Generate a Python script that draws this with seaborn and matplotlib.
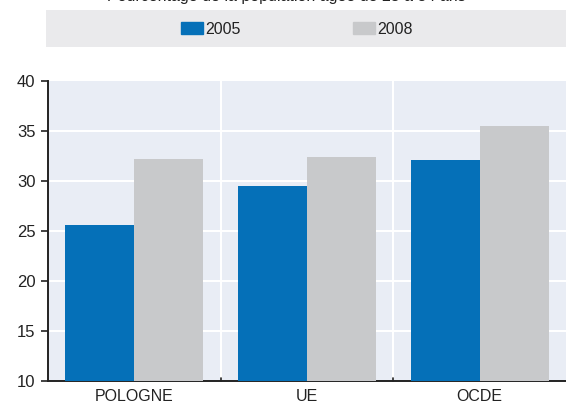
import matplotlib
matplotlib.use("Agg")
import matplotlib.pyplot as plt
import matplotlib.patches as mpatches
import pandas as pd
import seaborn as sns

sns.set_theme(style="white")
plt.rcParams["font.family"] = ["Liberation Sans Narrow", "Liberation Sans", "DejaVu Sans"]

CATEGORIES = ["POLOGNE", "UE", "OCDE"]
YEARS = ["2005", "2008"]
VALUES_2005 = [25.6, 29.5, 32.1]
VALUES_2008 = [32.2, 32.4, 35.5]
TITLE = "Pourcentage de la population âgée de 25 à 34 ans"

BLUE = "#0570B8"
GREY = "#C8C9CB"
INK = "#222222"

df = pd.DataFrame(
    {
        "pays": CATEGORIES * 2,
        "annee": [YEARS[0]] * 3 + [YEARS[1]] * 3,
        "valeur": VALUES_2005 + VALUES_2008,
    }
)

fig = plt.figure(figsize=(5.66, 4.03), dpi=100)
ax = fig.add_axes([48 / 566, 1 - 381 / 403, 1 - 48 / 566, 300 / 403])
ax.set_facecolor("#E9EDF5")

sns.barplot(
    data=df, x="pays", y="valeur", hue="annee", palette=[BLUE, GREY],
    width=0.8, saturation=1, linewidth=0, ax=ax, legend=False, zorder=3,
)

ax.set_ylim(10, 40)
ax.set_xlim(-0.5, 2.5)
ax.set_yticks(range(10, 41, 5))
ax.set_xticks([0, 1, 2])
ax.set_xticklabels(CATEGORIES)
ax.set_xlabel("")
ax.set_ylabel("")

for y in range(15, 40, 5):
    ax.axhline(y, color="white", lw=1.5, zorder=1)
for x in [0.5, 1.5]:
    ax.axvline(x, color="white", lw=1.5, zorder=1)
    ax.plot([x, x], [10, 10.3], color=INK, lw=1.2, zorder=4, clip_on=False)

for side in ["top", "right"]:
    ax.spines[side].set_visible(False)
for side in ["left", "bottom"]:
    ax.spines[side].set_color(INK)
    ax.spines[side].set_linewidth(1.4)

ax.tick_params(axis="y", left=True, length=5, width=1.2, color=INK,
               labelsize=12, labelcolor=INK, pad=4)
ax.tick_params(axis="x", bottom=False, labelsize=11.5, labelcolor=INK, pad=0)

# legend band
fig.patches.append(
    mpatches.Rectangle((46 / 566, 1 - 47 / 403), 1 - 46 / 566, 37 / 403,
                       transform=fig.transFigure, facecolor="#EAEAEC",
                       edgecolor="none", zorder=0)
)
handles = [mpatches.Patch(color=BLUE, label=YEARS[0]),
           mpatches.Patch(color=GREY, label=YEARS[1])]
fig.legend(handles=handles, loc="center", bbox_to_anchor=(297 / 566, 1 - 29 / 403),
           ncol=2, frameon=False, fontsize=11.5, columnspacing=7.0,
           handlelength=1.4, handleheight=0.85, handletextpad=0.15,
           labelcolor=INK)

fig.text(286 / 566, 1 - 1 / 403, TITLE, ha="center", va="baseline",
         fontsize=11.5, color=INK)

fig.savefig("out.png", dpi=100)
